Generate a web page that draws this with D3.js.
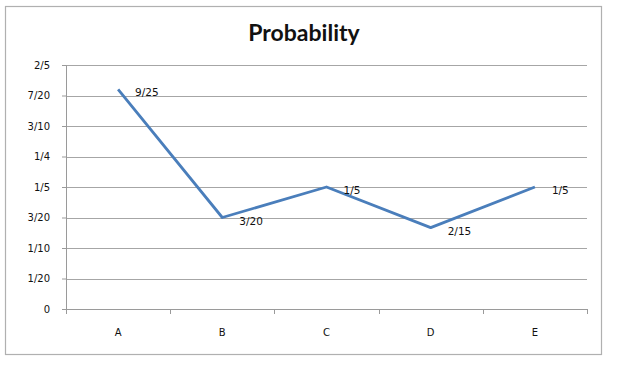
<!DOCTYPE html>
<html>
<head>
<meta charset="utf-8">
<script src="https://cdn.jsdelivr.net/npm/d3@7"></script>
<style>
  body { margin: 0; background: #fff; }
  svg { display: block; }
  .tick text { font-family: "DejaVu Sans", Verdana, sans-serif; font-size: 10px; fill: #111; }
</style>
</head>
<body>
<svg width="639" height="366"></svg>
<script>
var categories = ["A", "B", "C", "D", "E"];
var values = [9 / 25, 3 / 20, 1 / 5, 2 / 15, 1 / 5];
var valueLabels = ["9/25", "3/20", "1/5", "2/15", "1/5"];
var yTicks = [0, 0.05, 0.1, 0.15, 0.2, 0.25, 0.3, 0.35, 0.4];
var yTickLabels = ["0", "1/20", "1/10", "3/20", "1/5", "1/4", "3/10", "7/20", "2/5"];

var svg = d3.select("svg"),
    margin = { top: 65, right: 52, bottom: 57, left: 66 },
    width = +svg.attr("width") - margin.left - margin.right,
    height = +svg.attr("height") - margin.top - margin.bottom;

// outer chart border
svg.append("rect").attr("x", 5.5).attr("y", 6.5).attr("width", 596).attr("height", 348)
  .attr("fill", "#fff").attr("stroke", "#b0b0b0").attr("stroke-width", 1.2);

svg.append("text").attr("x", 304).attr("y", 41).attr("text-anchor", "middle")
  .attr("font-family", "Lato, 'Open Sans', sans-serif").attr("font-weight", "bold")
  .attr("font-size", 23).attr("fill", "#111").text("Probability");

var x = d3.scaleBand().domain(categories).range([0, width]);
var y = d3.scaleLinear().domain([0, 0.4]).range([height, 0]);

var g = svg.append("g").attr("transform", "translate(" + margin.left + "," + margin.top + ")");

// gridlines
g.append("g").selectAll("line").data(yTicks.slice(1)).enter().append("line")
  .attr("x1", 0).attr("x2", width)
  .attr("y1", function (d) { return Math.round(y(d)) + 0.5; })
  .attr("y2", function (d) { return Math.round(y(d)) + 0.5; })
  .attr("stroke", "#a6a6a6").attr("stroke-width", 1);

// y axis
var yAxis = g.append("g")
  .call(d3.axisLeft(y).tickValues(yTicks).tickSize(4).tickPadding(12)
    .tickFormat(function (d, i) { return yTickLabels[i]; }));
yAxis.select(".domain").attr("stroke", "#9a9a9a");
yAxis.selectAll(".tick line").attr("stroke", "#9a9a9a");

// x axis with ticks at band edges
var xAxis = g.append("g").attr("transform", "translate(0," + height + ")");
xAxis.append("line").attr("x1", 0).attr("x2", width).attr("y1", 0.5).attr("y2", 0.5).attr("stroke", "#9a9a9a");
xAxis.selectAll("line.edge").data(d3.range(categories.length + 1)).enter().append("line")
  .attr("class", "edge")
  .attr("x1", function (i) { return Math.round(i * x.step()) + 0.5; })
  .attr("x2", function (i) { return Math.round(i * x.step()) + 0.5; })
  .attr("y1", 0).attr("y2", 5).attr("stroke", "#9a9a9a");
xAxis.selectAll("text").data(categories).enter().append("text")
  .attr("x", function (d) { return x(d) + x.bandwidth() / 2; })
  .attr("y", 27).attr("text-anchor", "middle")
  .attr("font-family", "'DejaVu Sans', Verdana, sans-serif").attr("font-size", 10).attr("fill", "#111")
  .text(function (d) { return d; });

// line
var line = d3.line()
  .x(function (d, i) { return x(categories[i]) + x.bandwidth() / 2; })
  .y(function (d) { return y(d); });

g.append("path").datum(values).attr("d", line)
  .attr("fill", "none").attr("stroke", "#4a7ebb").attr("stroke-width", 2.8)
  .attr("stroke-linejoin", "round");

// data labels
g.append("g").selectAll("text").data(values).enter().append("text")
  .attr("x", function (d, i) { return x(categories[i]) + x.bandwidth() / 2 + 17; })
  .attr("y", function (d) { return y(d) + 7; })
  .attr("font-family", "'DejaVu Sans', Verdana, sans-serif").attr("font-size", 10.5).attr("fill", "#111")
  .text(function (d, i) { return valueLabels[i]; });
</script>
</body>
</html>
